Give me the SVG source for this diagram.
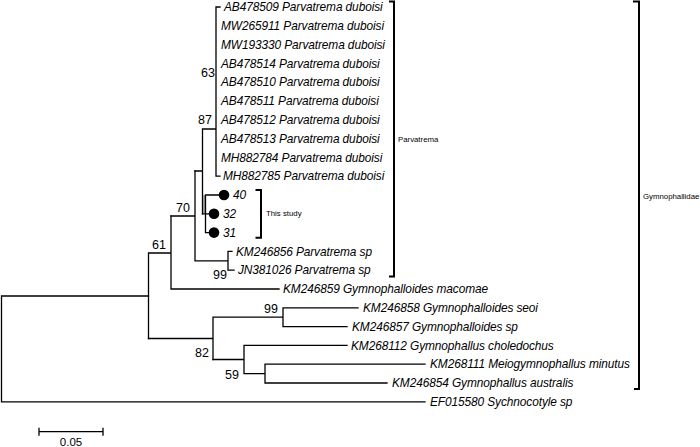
<svg xmlns="http://www.w3.org/2000/svg" width="700" height="447" viewBox="0 0 700 447">
<style>
.b{fill:none;stroke:#000;stroke-width:1.3;stroke-linecap:square}
.br{fill:none;stroke:#000;stroke-width:2}
.leaf{font-family:"Liberation Sans",Arial,sans-serif;font-style:italic;font-size:11.9px;letter-spacing:-0.1px;fill:#000}
.bs{font-family:"Liberation Sans",Arial,sans-serif;font-size:12.5px;fill:#000;text-anchor:end}
.sm{font-family:"Liberation Sans",Arial,sans-serif;font-size:7.8px;fill:#000}
.sc{font-family:"Liberation Sans",Arial,sans-serif;font-size:11.5px;fill:#000;text-anchor:middle}
</style>
<rect width="700" height="447" fill="#fff"/>
<g id="connectors">
<path class="b" d="M1.5,296V401.8M1.5,296H148.5M1.5,401.8H425"/>
<path class="b" d="M148.5,253V338.5M148.5,253H171M171,216V289M171,289H279"/>
<path class="b" d="M171,216H195M195,171V260.8M195,260.8H228M228,251.4V270.2M228,251.4H232M228,270.2H234"/>
<path class="b" d="M195,171H202.5M202.5,129V213.8M202.5,129H216M216,7V176.2M216,7H220M216,176.2H220"/>
<rect x="203" y="195" width="2.5" height="18" fill="#999"/>
<path class="b" d="M202.5,213.8H205.5M205.5,195V232.6M205.5,195H219M205.5,213.8H209M205.5,232.6H209"/>
<path class="b" d="M148.5,338.5H213M213,317.2V359.5M213,317.2H283M283,307.8V326.6M283,307.8H358M283,326.6H347"/>
<path class="b" d="M213,359.5H244M244,345.4V373.6M244,345.4H347M244,373.6H265M265,364.2V383M265,364.2H425M265,383H387"/>
<path class="b" d="M39,431.7H103M39,428.3V435M103,428.3V435"/>
</g>
<g id="leaves">
<text class="leaf" x="224" y="11.2">AB478509 Parvatrema duboisi</text>
<text class="leaf" x="221" y="30">MW265911 Parvatrema duboisi</text>
<text class="leaf" x="221" y="48.8">MW193330 Parvatrema duboisi</text>
<text class="leaf" x="221" y="67.6">AB478514 Parvatrema duboisi</text>
<text class="leaf" x="221" y="86.4">AB478510 Parvatrema duboisi</text>
<text class="leaf" x="221" y="105.2">AB478511 Parvatrema duboisi</text>
<text class="leaf" x="221" y="124">AB478512 Parvatrema duboisi</text>
<text class="leaf" x="221" y="142.8">AB478513 Parvatrema duboisi</text>
<text class="leaf" x="221" y="161.6">MH882784 Parvatrema duboisi</text>
<text class="leaf" x="223" y="180.4">MH882785 Parvatrema duboisi</text>
<text class="leaf" x="236" y="255.6">KM246856 Parvatrema sp</text>
<text class="leaf" x="238" y="274.4">JN381026 Parvatrema sp</text>
<text class="leaf" x="283" y="293.2">KM246859 Gymnophalloides macomae</text>
<text class="leaf" x="363" y="312">KM246858 Gymnophalloides seoi</text>
<text class="leaf" x="352" y="330.8">KM246857 Gymnophalloides sp</text>
<text class="leaf" x="351" y="349.6">KM268112 Gymnophallus choledochus</text>
<text class="leaf" x="430" y="368.4">KM268111 Meiogymnophallus minutus</text>
<text class="leaf" x="392" y="387.2">KM246854 Gymnophallus australis</text>
<text class="leaf" x="430" y="406">EF015580 Sychnocotyle sp</text>
</g>
<g id="study">
<circle cx="224" cy="195" r="5.3" fill="#000"/>
<circle cx="214" cy="213.8" r="5.3" fill="#000"/>
<circle cx="214" cy="232.6" r="5.3" fill="#000"/>
<text class="leaf" x="233" y="199.2">40</text>
<text class="leaf" x="223" y="218">32</text>
<text class="leaf" x="223" y="236.8">31</text>
</g>
<g id="bootstrap">
<text class="bs" x="215" y="77">63</text>
<text class="bs" x="212" y="124">87</text>
<text class="bs" x="190" y="212">70</text>
<text class="bs" x="166" y="249">61</text>
<text class="bs" x="227" y="279">99</text>
<text class="bs" x="278" y="313">99</text>
<text class="bs" x="209" y="357">82</text>
<text class="bs" x="239" y="379">59</text>
</g>
<g id="brackets">
<path class="br" d="M255.5,190H261V237.7H255.5"/>
<text class="sm" x="266" y="216">This study</text>
<path class="br" d="M389,1.5H394V276.5H389"/>
<text class="sm" x="398" y="142">Parvatrema</text>
<path class="br" d="M633,1.5H639V389H634"/>
<text class="sm" x="643" y="198.5">Gymnophallidae</text>
</g>
<g id="scale">
<text class="sc" x="71" y="446">0.05</text>
</g>
</svg>
